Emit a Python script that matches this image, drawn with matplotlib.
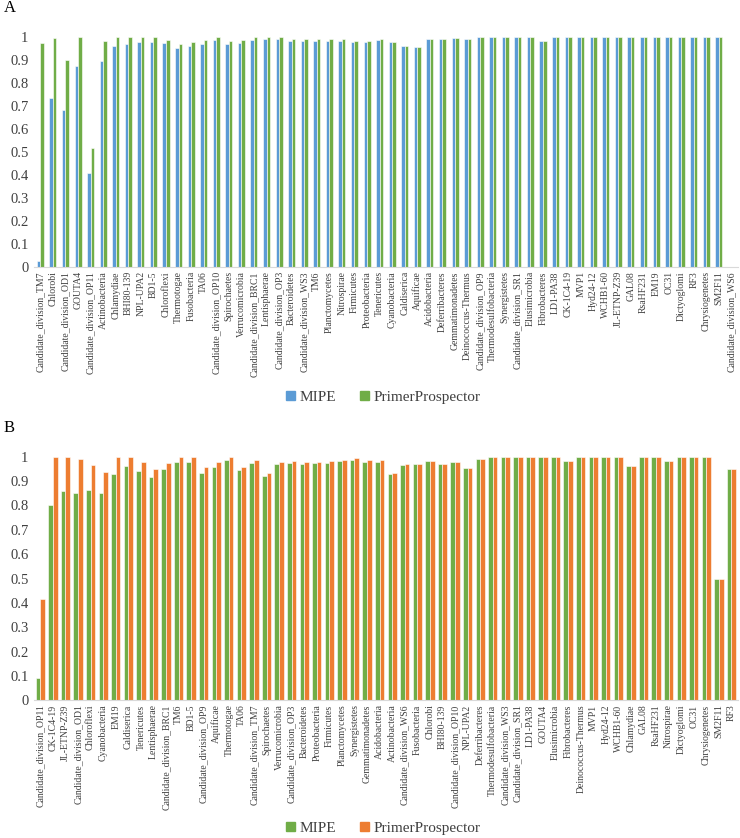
import numpy as np
import matplotlib
matplotlib.use("Agg")
import matplotlib.pyplot as plt
from matplotlib.patches import Patch

plt.rcParams['font.family'] = ['Liberation Serif', 'DejaVu Serif']

# Panel A
cats_a = ['Candidate_division_TM7', 'Chlorobi', 'Candidate_division_OD1', 'GOUTA4',
          'Candidate_division_OP11', 'Actinobacteria', 'Chlamydiae', 'BHI80-139',
          'NPL-UPA2', 'BD1-5', 'Chloroflexi', 'Thermotogae', 'Fusobacteria', 'TA06',
          'Candidate_division_OP10', 'Spirochaetes', 'Verrucomicrobia',
          'Candidate_division_BRC1', 'Lentisphaerae', 'Candidate_division_OP3',
          'Bacteroidetes', 'Candidate_division_WS3', 'TM6', 'Planctomycetes',
          'Nitrospirae', 'Firmicutes', 'Proteobacteria', 'Tenericutes',
          'Cyanobacteria', 'Caldiserica', 'Aquificae', 'Acidobacteria',
          'Deferribacteres', 'Gemmatimonadetes', 'Deinococcus-Thermus',
          'Candidate_division_OP9', 'Thermodesulfobacteria', 'Synergistetes',
          'Candidate_division_SR1', 'Elusimicrobia', 'Fibrobacteres', 'LD1-PA38',
          'CK-1C4-19', 'MVP1', 'Hyd24-12', 'WCHB1-60', 'JL-ETNP-Z39', 'GAL08',
          'RsaHF231', 'EM19', 'OC31', 'Dictyoglomi', 'RF3', 'Chrysiogenetes',
          'SM2F11', 'Candidate_division_WS6']
mipe_a = [0.025, 0.733, 0.683, 0.874, 0.407, 0.896, 0.959, 0.968, 0.977, 0.977,
          0.972, 0.954, 0.962, 0.971, 0.986, 0.968, 0.974, 0.987, 0.990, 0.990,
          0.984, 0.984, 0.984, 0.984, 0.984, 0.977, 0.977, 0.988, 0.980, 0.961,
          0.958, 0.990, 0.990, 0.997, 0.991, 1.0, 1.0, 1.0, 1.0, 1.0,
          0.981, 1.0, 1.0, 1.0, 1.0, 1.0, 1.0, 1.0, 1.0, 1.0,
          1.0, 1.0, 1.0, 1.0, 1.0, 0.0]
pp_a = [0.972, 0.994, 0.898, 1.0, 0.517, 0.984, 1.0, 1.0, 1.0, 1.0,
        0.988, 0.968, 0.977, 0.986, 1.0, 0.983, 0.987, 1.0, 1.0, 1.0,
        0.993, 0.991, 0.993, 0.991, 0.993, 0.984, 0.984, 0.991, 0.980, 0.961,
        0.958, 0.990, 0.990, 0.997, 0.991, 1.0, 1.0, 1.0, 1.0, 1.0,
        0.981, 1.0, 1.0, 1.0, 1.0, 1.0, 1.0, 1.0, 1.0, 1.0,
        1.0, 1.0, 1.0, 1.0, 1.0, 0.0]

# Panel B
cats_b = ['Candidate_division_OP11', 'CK-1C4-19', 'JL-ETNP-Z39', 'Candidate_division_OD1',
          'Chloroflexi', 'Cyanobacteria', 'EM19', 'Caldiserica', 'Tenericutes',
          'Lentisphaerae', 'Candidate_division_BRC1', 'TM6', 'BD1-5',
          'Candidate_division_OP9', 'Aquificae', 'Thermotogae', 'TA06',
          'Candidate_division_TM7', 'Spirochaetes', 'Verrucomicrobia',
          'Candidate_division_OP3', 'Bacteroidetes', 'Proteobacteria', 'Firmicutes',
          'Planctomycetes', 'Synergistetes', 'Gemmatimonadetes', 'Acidobacteria',
          'Actinobacteria', 'Candidate_division_WS6', 'Fusobacteria', 'Chlorobi',
          'BHI80-139', 'Candidate_division_OP10', 'NPL-UPA2', 'Deferribacteres',
          'Thermodesulfobacteria', 'Candidate_division_WS3', 'Candidate_division_SR1',
          'LD1-PA38', 'GOUTA4', 'Elusimicrobia', 'Fibrobacteres', 'Deinococcus-Thermus',
          'MVP1', 'Hyd24-12', 'WCHB1-60', 'Chlamydiae', 'GAL08', 'RsaHF231',
          'Nitrospirae', 'Dictyoglomi', 'OC31', 'Chrysiogenetes', 'SM2F11', 'RF3']
mipe_b = [0.090, 0.801, 0.859, 0.852, 0.864, 0.851, 0.929, 0.962, 0.942, 0.918,
          0.951, 0.978, 0.979, 0.934, 0.959, 0.985, 0.944, 0.973, 0.922, 0.970,
          0.973, 0.970, 0.973, 0.973, 0.982, 0.988, 0.979, 0.979, 0.930, 0.967,
          0.971, 0.984, 0.970, 0.978, 0.953, 0.990, 1.0, 1.0, 1.0, 1.0,
          1.0, 1.0, 0.981, 1.0, 1.0, 1.0, 1.0, 0.960, 1.0, 1.0,
          0.981, 1.0, 1.0, 1.0, 0.500, 0.951]
pp_b = [0.415, 1.0, 1.0, 0.990, 0.964, 0.938, 1.0, 1.0, 0.980, 0.949,
        0.975, 1.0, 1.0, 0.957, 0.979, 1.0, 0.957, 0.986, 0.934, 0.979,
        0.982, 0.978, 0.978, 0.982, 0.988, 0.995, 0.985, 0.985, 0.933, 0.970,
        0.971, 0.984, 0.970, 0.978, 0.953, 0.990, 1.0, 1.0, 1.0, 1.0,
        1.0, 1.0, 0.981, 1.0, 1.0, 1.0, 1.0, 0.960, 1.0, 1.0,
        0.981, 1.0, 1.0, 1.0, 0.500, 0.951]

BLUE = '#5B9BD5'
GREEN = '#70AD47'
ORANGE = '#ED7D31'
TXT = '#404040'

fig = plt.figure(figsize=(7.4, 8.38), dpi=100)


def panel(rect, cats, s1, s2, c1, c2, width, letter, letter_y, legend_y):
    ax = fig.add_axes(rect)
    x = np.arange(len(cats))
    ax.bar(x - width / 2, s1, width, color=c1, edgecolor='white', linewidth=0.4)
    ax.bar(x + width / 2, s2, width, color=c2, edgecolor='white', linewidth=0.4)
    ax.set_xlim(-0.5, len(cats) - 0.5)
    ax.set_ylim(0, 1)
    ax.set_yticks(np.arange(0, 1.01, 0.1))
    ax.set_yticklabels(['0'] + ['%.1f' % v for v in np.arange(0.1, 0.95, 0.1)] + ['1'],
                       fontsize=10.5, color=TXT)
    ax.set_xticks(x)
    ax.set_xticklabels(cats, rotation=90, fontsize=7, color=TXT)
    ax.tick_params(axis='x', length=0, pad=3)
    ax.tick_params(axis='y', length=0, pad=4)
    for s in ['top', 'right', 'left']:
        ax.spines[s].set_visible(False)
    ax.spines['bottom'].set_color('#D9D9D9')
    fig.text(0.005, letter_y, letter, fontsize=12, va='center', ha='left')
    handles = [Patch(color=c1, label='MIPE'), Patch(color=c2, label='PrimerProspector')]
    fig.legend(handles=handles, loc='center', bbox_to_anchor=(0.518, legend_y), ncol=2,
               frameon=False, fontsize=11, handlelength=0.55, handleheight=0.55,
               handletextpad=0.3, columnspacing=1.6, labelcolor=TXT)
    return ax


panel([0.046, 0.6814, 0.951, 0.2745], cats_a, mipe_a, pp_a, BLUE, GREEN, 0.28,
      'A', 0.99, 0.526)
panel([0.046, 0.1643, 0.951, 0.2907], cats_b, mipe_b, pp_b, GREEN, ORANGE, 0.37,
      'B', 0.489, 0.011)

fig.savefig('out.png', dpi=100)
